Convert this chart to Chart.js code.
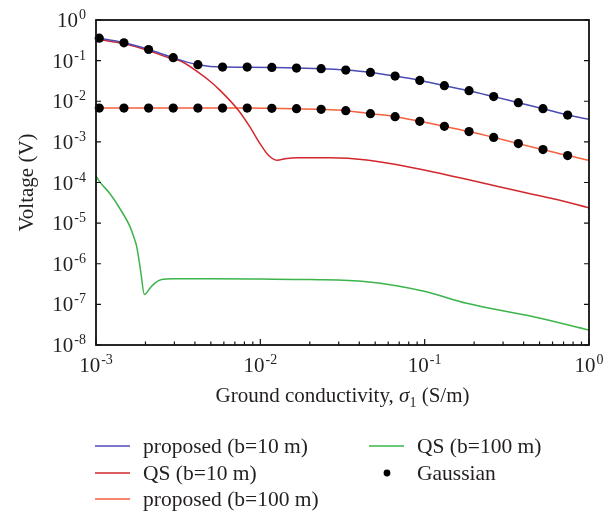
<!DOCTYPE html>
<html>
<head>
<meta charset="utf-8">
<script src="https://cdn.jsdelivr.net/npm/chart.js@4.4.1/dist/chart.umd.min.js"></script>
<style>
  body { margin: 0; background: #fff; }
  canvas { display: block; }
</style>
</head>
<body>
<canvas id="voltage_chart" width="614" height="513"></canvas>
<script>
// SERIES NAMES AND COLOURS
const seriesLabels = ['proposed (b=10 m)', 'QS (b=10 m)', 'proposed (b=100 m)', 'QS (b=100 m)', 'Gaussian'];
const seriesColors = ['#4b4bb4', '#d2282d', '#f5603c', '#3cb44b', '#000000'];

// proposed, b = 10 m
const propB10X = [0.001, 0.00148, 0.00209, 0.00295, 0.00417, 0.00589, 0.00832, 0.01175, 0.0166, 0.02344, 0.03311, 0.04677, 0.06607, 0.09333, 0.1318, 0.1862, 0.263, 0.3715, 0.5248, 0.7413, 1];
const propB10Y = [0.365, 0.275, 0.188, 0.118, 0.0793, 0.0692, 0.0690, 0.0680, 0.0654, 0.0632, 0.0584, 0.0513, 0.0416, 0.0326, 0.0242, 0.0182, 0.0130, 0.00922, 0.00657, 0.00457, 0.00359];

// QS, b = 10 m
const qsB10X = [0.001, 0.00148, 0.0021, 0.00294, 0.00325, 0.0043, 0.00494, 0.00569, 0.00735, 0.00866, 0.00995, 0.0112, 0.0126, 0.0145, 0.0167, 0.0265, 0.0444, 0.0708, 0.113, 0.18, 0.288, 0.459, 0.637, 1];
const qsB10Y = [0.34, 0.26, 0.175, 0.108, 0.099, 0.0476, 0.031, 0.0185, 0.006, 0.0023, 0.00091, 0.00047, 0.000355, 0.00039, 0.000405, 0.000405, 0.00036, 0.000266, 0.000182, 0.00012, 0.0000778, 0.0000506, 0.000038, 0.0000237];

// proposed, b = 100 m
const propB100X = [0.001, 0.00148, 0.00209, 0.00295, 0.00417, 0.00589, 0.00832, 0.01175, 0.0166, 0.02344, 0.03311, 0.04677, 0.06607, 0.09333, 0.1318, 0.1862, 0.263, 0.3715, 0.5248, 0.7413, 1];
const propB100Y = [0.0068, 0.0068, 0.0068, 0.0068, 0.0068, 0.0068, 0.0068, 0.00668, 0.00657, 0.00632, 0.00587, 0.00495, 0.00418, 0.0032, 0.00241, 0.00179, 0.00129, 0.000906, 0.000645, 0.00046, 0.000352];

// QS, b = 100 m
const qsB100X = [0.001, 0.001057, 0.001217, 0.0014, 0.00161, 0.00169, 0.00177, 0.001866, 0.00197, 0.00213, 0.00229, 0.00251, 0.00295, 0.005, 0.01, 0.02, 0.0444, 0.0977, 0.18, 0.459, 1];
const qsB100Y = [1.45e-4, 1.02e-4, 5.3e-5, 2.26e-5, 8.2e-6, 4.8e-6, 2.61e-6, 7.0e-7, 1.75e-7, 2.5e-7, 3.4e-7, 4.1e-7, 4.27e-7, 4.28e-7, 4.2e-7, 4.07e-7, 3.6e-7, 2.13e-7, 1.06e-7, 4.97e-8, 2.34e-8];

// Gaussian reference points
const gaussX = [0.001047, 0.001479, 0.002089, 0.002951, 0.004169, 0.005888, 0.008318, 0.01175, 0.0166, 0.02344, 0.03311, 0.04677, 0.06607, 0.09333, 0.1318, 0.1862, 0.263, 0.3715, 0.5248, 0.7413];
const gaussB10Y = [0.357, 0.275, 0.188, 0.118, 0.0793, 0.0692, 0.0692, 0.0680, 0.0654, 0.0632, 0.0584, 0.0513, 0.0416, 0.0326, 0.0242, 0.0182, 0.0130, 0.00922, 0.00657, 0.00457];
const gaussB100Y = [0.0068, 0.0068, 0.0068, 0.0068, 0.0068, 0.0068, 0.0068, 0.00668, 0.00657, 0.00632, 0.00587, 0.00495, 0.00418, 0.0032, 0.00241, 0.00179, 0.00129, 0.000906, 0.000645, 0.00046];

// AXIS TICKS (powers of ten)
const xTickExps = [-3, -2, -1, 0];
const yTickExps = [0, -1, -2, -3, -4, -5, -6, -7, -8];

const textColor = '#231f20';
const serif = '"Liberation Serif", "DejaVu Serif", serif';

function toPoints(xs, ys){
	return xs.map((x, i) => ({ x: x, y: ys[i] }));
}

function lineSet(idx, xs, ys, order){
	return {
		label: seriesLabels[idx],
		data: toPoints(xs, ys),
		showLine: true,
		borderColor: seriesColors[idx],
		backgroundColor: seriesColors[idx],
		borderWidth: 1.5,
		pointRadius: 0,
		cubicInterpolationMode: 'monotone',
		order: order
	};
}

// draws "10" with a raised exponent
function drawPower(ctx, exp, x, y, align){
	ctx.font = '21px ' + serif;
	const baseW = ctx.measureText('10').width;
	ctx.font = '14px ' + serif;
	const expText = String(exp);
	const expW = ctx.measureText(expText).width;
	let left;
	if(align == 'right') left = x - baseW - expW - 1;
	else left = x - (baseW + expW + 1) / 2;
	ctx.textAlign = 'left';
	ctx.textBaseline = 'alphabetic';
	ctx.font = '21px ' + serif;
	ctx.fillText('10', left, y);
	ctx.font = '14px ' + serif;
	ctx.fillText(expText, left + baseW + 1, y - 8);
}

const framePlugin = {
	id: 'frame',
	afterDraw(chart){
		const ctx = chart.ctx;
		const area = chart.chartArea;
		const xs = chart.scales.x, ys = chart.scales.y;
		ctx.save();
		ctx.fillStyle = textColor;
		ctx.strokeStyle = '#111';

		// box
		ctx.lineWidth = 1.8;
		ctx.strokeRect(area.left, area.top, area.right - area.left, area.bottom - area.top);

		// y ticks, left and right, pointing inward
		ctx.lineWidth = 1.2;
		yTickExps.forEach(e => {
			const py = ys.getPixelForValue(Math.pow(10, e));
			ctx.beginPath();
			ctx.moveTo(area.left, py); ctx.lineTo(area.left + 5, py);
			ctx.moveTo(area.right, py); ctx.lineTo(area.right - 5, py);
			ctx.stroke();
			drawPower(ctx, e, 86, py + 7, 'right');
		});

		// x ticks, major and minor
		xTickExps.forEach(e => {
			const px = xs.getPixelForValue(Math.pow(10, e));
			ctx.beginPath();
			ctx.moveTo(px, area.bottom); ctx.lineTo(px, area.bottom - 6);
			ctx.stroke();
			if(e < 0){
				for(let m = 2; m < 10; m++){
					const mx = xs.getPixelForValue(m * Math.pow(10, e));
					ctx.beginPath();
					ctx.moveTo(mx, area.bottom); ctx.lineTo(mx, area.bottom - 3.5);
					ctx.stroke();
				}
			}
			drawPower(ctx, e, px, 372, 'center');
		});

		// x title
		const parts = [
			{ t: 'Ground conductivity, ', f: '21px ' + serif, dy: 0 },
			{ t: '\u03c3', f: 'italic 21px ' + serif, dy: 0 },
			{ t: '1', f: '14px ' + serif, dy: 5 },
			{ t: ' (S/m)', f: '21px ' + serif, dy: 0 }
		];
		let total = 0;
		parts.forEach(p => { ctx.font = p.f; p.w = ctx.measureText(p.t).width; total += p.w; });
		let cx = (area.left + area.right) / 2 - total / 2;
		ctx.textAlign = 'left';
		parts.forEach(p => { ctx.font = p.f; ctx.fillText(p.t, cx, 402 + p.dy); cx += p.w; });

		// y title
		ctx.save();
		ctx.translate(33, (area.top + area.bottom) / 2);
		ctx.rotate(-Math.PI / 2);
		ctx.textAlign = 'center';
		ctx.font = '21px ' + serif;
		ctx.fillText('Voltage (V)', 0, 0);
		ctx.restore();

		// legend, two columns
		const rows = [
			{ i: 0, x: 95, y: 446 }, { i: 1, x: 95, y: 473 }, { i: 2, x: 95, y: 499 },
			{ i: 3, x: 369, y: 446 }, { i: 4, x: 369, y: 473 }
		];
		ctx.font = '21.5px ' + serif;
		rows.forEach(r => {
			if(r.i == 4){
				ctx.fillStyle = seriesColors[4];
				ctx.beginPath();
				ctx.arc(r.x + 18, r.y, 3.4, 0, Math.PI * 2);
				ctx.fill();
			} else {
				ctx.strokeStyle = seriesColors[r.i];
				ctx.lineWidth = 1.5;
				ctx.beginPath();
				ctx.moveTo(r.x, r.y); ctx.lineTo(r.x + 35, r.y);
				ctx.stroke();
			}
			ctx.fillStyle = textColor;
			ctx.fillText(seriesLabels[r.i], r.x + 48, r.y + 7);
		});
		ctx.restore();
	}
};

const ctx = document.getElementById('voltage_chart').getContext('2d');

const my_chart = new Chart(ctx, {
	type: 'scatter',
	data: {
		datasets: [
			{
				label: seriesLabels[4],
				data: toPoints(gaussX, gaussB10Y).concat(toPoints(gaussX, gaussB100Y)),
				showLine: false,
				pointRadius: 4.6,
				pointBorderWidth: 0,
				backgroundColor: seriesColors[4],
				borderColor: seriesColors[4],
				clip: false,
				order: 0
			},
			lineSet(0, propB10X, propB10Y, 1),
			lineSet(1, qsB10X, qsB10Y, 2),
			lineSet(2, propB100X, propB100Y, 3),
			lineSet(3, qsB100X, qsB100Y, 4)
		]
	},
	options: {
		responsive: false,
		animation: false,
		layout: { padding: { left: 96, top: 20, right: 25, bottom: 168 } },
		plugins: { legend: { display: false }, tooltip: { enabled: false } },
		scales: {
			x: { type: 'logarithmic', min: 0.001, max: 1, display: false },
			y: { type: 'logarithmic', min: 1e-8, max: 1, display: false }
		}
	},
	plugins: [framePlugin]
});
</script>
</body>
</html>
